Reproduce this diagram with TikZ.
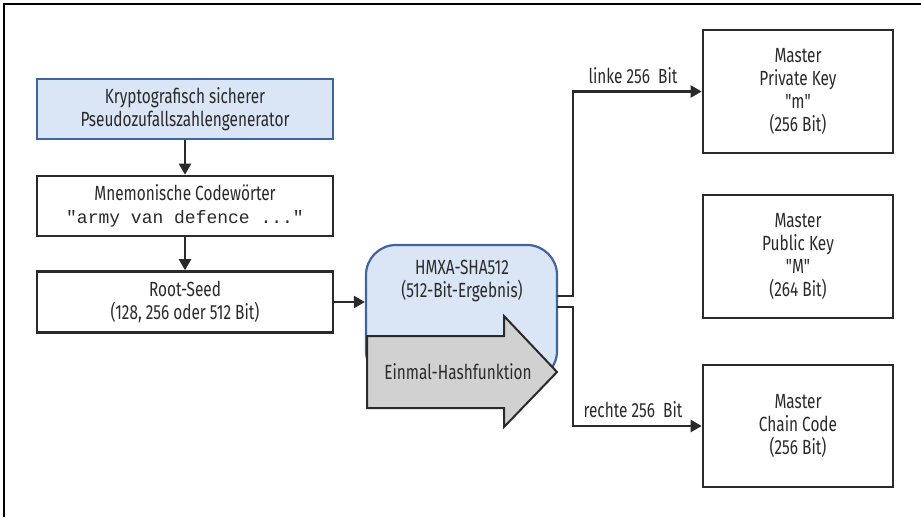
\documentclass[tikz,border=0pt]{standalone}
\usepackage{fontspec}
\setmainfont[FakeStretch=0.75]{Fira Sans}
\newfontfamily\qfont[FakeStretch=0.75]{Fira Sans}
\setmonofont{Liberation Mono}
\usetikzlibrary{arrows.meta,calc}
\definecolor{boxblue}{HTML}{DAE6F5}
\definecolor{edgeblue}{HTML}{3F63A3}
\definecolor{lineg}{HTML}{2A2A2A}
\definecolor{arrgray}{HTML}{D1D1D1}
\tikzset{
  every node/.style={font=\fontsize{20.5}{22.8}\selectfont, text=lineg},
  plainbox/.style={draw=lineg, line width=2.6pt, fill=white, align=center, inner sep=0pt},
  conn/.style={draw=lineg, line width=2.2pt, -{Triangle[length=11pt,width=12pt]}},
  lbl/.style={inner sep=0pt, anchor=base},
}
\begin{document}
\begin{tikzpicture}[x=1pt,y=-1pt]
\useasboundingbox (0,0) rectangle (921,517);
\draw[black, line width=1.5pt] (4,517) -- (4,4) -- (921,4);

% left column
\node[plainbox, fill=boxblue, draw=edgeblue, minimum width=296pt, minimum height=60pt] (gen) at (185,109)
  {Kryptografisch sicherer\\Pseudozufallszahlengenerator};
\node[plainbox, minimum width=296pt, minimum height=60pt] (mnem) at (185,206)
  {Mnemonische Codewörter\\{\ttfamily\fontsize{18}{22.8}\selectfont "army van defence ..."}};
\node[plainbox, minimum width=296pt, minimum height=61pt] (seed) at (185,302)
  {Root-Seed\\(128, 256 oder 512 Bit)};

% HMAC box
\node[draw=edgeblue, fill=boxblue, line width=2.2pt, rounded corners=30pt,
      minimum width=191pt, minimum height=136pt, inner sep=0pt] (hmac) at (461.5,313) {};
\node[align=center, inner sep=0pt] (hmactxt) at (462,281) {HMXA-SHA512\\(512-Bit-Ergebnis)};

% gray arrow
\draw[draw=lineg, fill=arrgray, line width=2pt, line join=miter]
  (367,336) -- (504,336) -- (504,316) -- (557,372) -- (504,427) -- (504,408) -- (367,408) -- cycle;
\node[inner sep=0pt] (hash) at (458,372) {Einmal-Hashfunktion};

% right column
\node[plainbox, minimum width=190pt, minimum height=123pt] (pk) at (798,91.5)
  {Master\\Private Key\\{\qfont"m"}\\(256 Bit)};
\node[plainbox, minimum width=190pt, minimum height=123pt] (pub) at (798,256.5)
  {Master\\Public Key\\{\qfont"M"}\\(264 Bit)};
\node[plainbox, minimum width=190pt, minimum height=122pt] (cc) at (798,426)
  {Master\\Chain Code\\(256 Bit)};

% connectors
\draw[conn] (gen.south) -- (mnem.north);
\draw[conn] (mnem.south) -- (seed.north);
\draw[conn] (seed.east) -- (seed.east -| hmac.west);
\coordinate (o1) at (557,296);
\coordinate (o2) at (557,307);
\draw[conn] (o1) -- (573,296) |- (pk.west);
\draw[conn] (o2) -- (573,307) |- (cc.west);

\node[lbl] (lk) at (633,83) {linke 256\ \ Bit};
\node[lbl] (rk) at (633,417) {rechte 256\ \ Bit};
\end{tikzpicture}
\end{document}
